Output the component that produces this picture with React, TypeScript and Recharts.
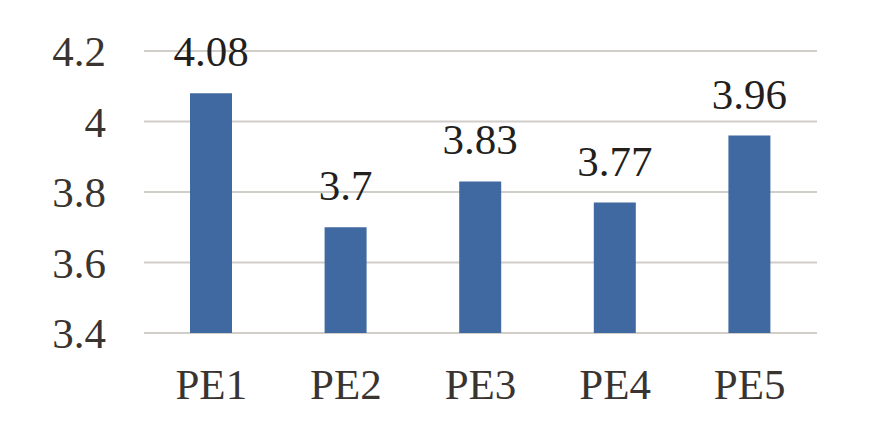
import { BarChart, Bar, XAxis, YAxis, CartesianGrid, LabelList } from 'recharts';

const categories = ['PE1', 'PE2', 'PE3', 'PE4', 'PE5'];
const scores = [4.08, 3.7, 3.83, 3.77, 3.96];
const yTicks = [3.4, 3.6, 3.8, 4, 4.2];

const data = categories.map((name, i) => ({ name, value: scores[i] }));

const fontFamily = 'Liberation Serif, DejaVu Serif, serif';
const textColor = '#3a3431';

export default function App() {
  return (
    <div
      style={{
        position: 'absolute',
        left: 0,
        top: 0,
        width: 888,
        height: 444,
        background: '#fff',
        fontFamily,
      }}
    >
      <BarChart
        width={888}
        height={444}
        data={data}
        margin={{ top: 51, right: 71, bottom: 0, left: 0 }}
        style={{ fontFamily }}
      >
        <CartesianGrid vertical={false} stroke="#d1cdc9" strokeWidth={2} />
        <XAxis
          dataKey="name"
          axisLine={false}
          tickLine={false}
          tickSize={0}
          tickMargin={35}
          height={111}
          tick={{ fill: textColor, fontSize: 43, style: { fontFamily } }}
        />
        <YAxis
          domain={[3.4, 4.2]}
          ticks={yTicks}
          axisLine={false}
          tickLine={false}
          tickSize={0}
          tickMargin={38}
          width={144}
          tick={{ fill: textColor, fontSize: 43, style: { fontFamily } }}
        />
        <Bar dataKey="value" fill="#4169a1" barSize={42} isAnimationActive={false}>
          <LabelList
            dataKey="value"
            position="top"
            offset={27}
            fill="#231f1d"
            style={{ fontSize: 43, fontFamily }}
          />
        </Bar>
      </BarChart>
    </div>
  );
}
